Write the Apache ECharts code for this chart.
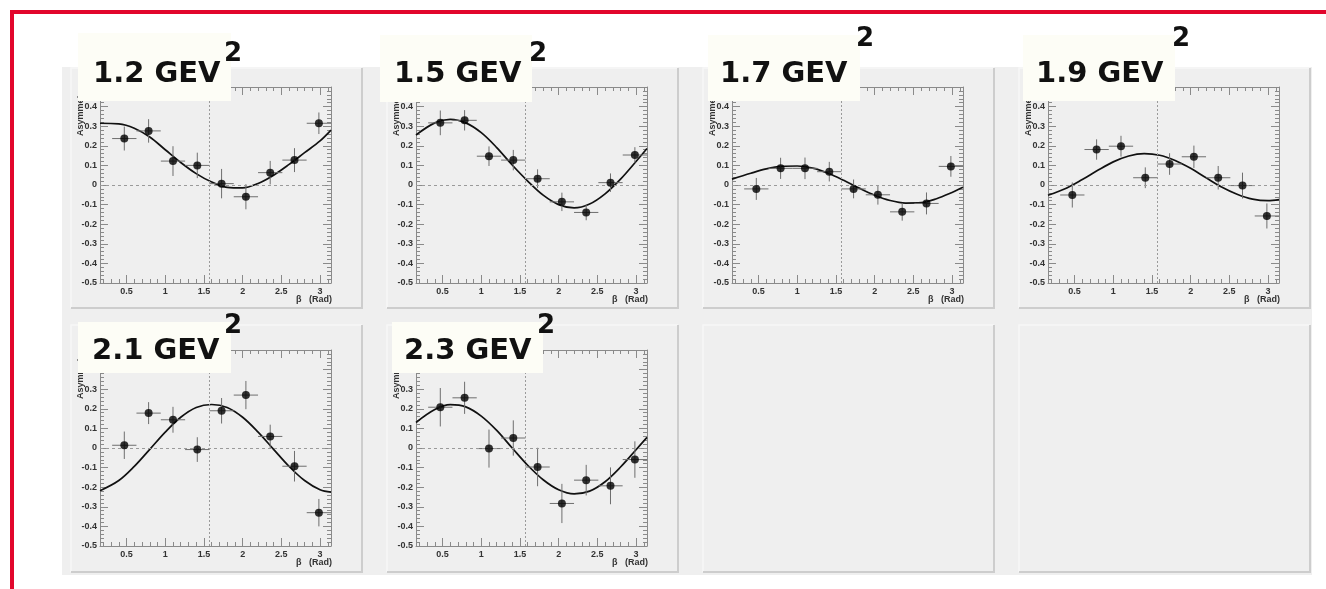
<!DOCTYPE html>
<html><head><meta charset="utf-8">
<script src="https://cdn.jsdelivr.net/npm/echarts@6/dist/echarts.min.js"></script>
<style>html,body{margin:0;padding:0;background:#fff}#c{width:1326px;height:589px}</style>
</head><body><div id="c"></div>
<script>
// ---------------- DATA ----------------
const panelLabels = ['1.2', '1.5', '1.7', '1.9', '2.1', '2.3'];
const unitText = 'GEV';
const unitPower = '2';
const betaCenters = [0.471, 0.785, 1.100, 1.414, 1.728, 2.042, 2.356, 2.670, 2.985];
const betaHalfBin = [0.157, 0.157, 0.157, 0.157, 0.157, 0.157, 0.157, 0.157, 0.157];
const betaRange = [0.157, 3.1416];
const asymRange = [-0.5, 0.5];
const xTickMajor = [0.5, 1, 1.5, 2, 2.5, 3];
const xTickMinor = [0.2, 0.3, 0.4, 0.6, 0.7, 0.8, 0.9, 1.1, 1.2, 1.3, 1.4, 1.6, 1.7, 1.8, 1.9, 2.1, 2.2, 2.3, 2.4, 2.6, 2.7, 2.8, 2.9, 3.1];
const yLabelMaxTopRow = 0.4;
const yLabelMaxBottomRow = 0.3;
const refBeta = [1.5708];
const refAsym = [0];
const xTitle = 'β   (Rad)';
const yTitle = 'Asymmetry';

const asym12 = [0.237, 0.276, 0.122, 0.100, 0.007, -0.060, 0.063, 0.127, 0.315];
const err12  = [0.061, 0.060, 0.076, 0.065, 0.075, 0.064, 0.060, 0.061, 0.055];
const asym15 = [0.317, 0.330, 0.147, 0.127, 0.032, -0.086, -0.140, 0.012, 0.153];
const err15  = [0.063, 0.052, 0.050, 0.052, 0.048, 0.047, 0.040, 0.047, 0.040];
const asym17 = [-0.020, 0.085, 0.085, 0.068, -0.020, -0.050, -0.137, -0.094, 0.095];
const err17  = [0.056, 0.054, 0.055, 0.050, 0.048, 0.050, 0.045, 0.056, 0.053];
const asym19 = [-0.051, 0.181, 0.198, 0.037, 0.107, 0.144, 0.037, -0.003, -0.158];
const err19  = [0.064, 0.052, 0.053, 0.053, 0.055, 0.057, 0.060, 0.066, 0.064];
const asym21 = [0.014, 0.178, 0.144, -0.008, 0.190, 0.270, 0.059, -0.093, -0.330];
const err21  = [0.070, 0.056, 0.066, 0.063, 0.065, 0.072, 0.060, 0.078, 0.070];
const asym23 = [0.208, 0.256, -0.003, 0.051, -0.097, -0.283, -0.164, -0.193, -0.059];
const err23  = [0.098, 0.082, 0.097, 0.090, 0.098, 0.100, 0.078, 0.094, 0.093];

const fitBeta = [0.157, 0.4, 0.6, 0.8, 1.0, 1.2, 1.4, 1.6, 1.8, 2.0, 2.2, 2.4, 2.6, 2.8, 3.0, 3.1416];
const fit12 = [0.315, 0.312, 0.290, 0.245, 0.180, 0.115, 0.058, 0.015, -0.012, -0.015, 0.008, 0.050, 0.105, 0.165, 0.225, 0.280];
const fit15 = [0.255, 0.317, 0.335, 0.317, 0.267, 0.191, 0.102, 0.020, -0.052, -0.100, -0.117, -0.097, -0.045, 0.030, 0.120, 0.186];
const fit17 = [0.030, 0.060, 0.082, 0.095, 0.097, 0.086, 0.060, 0.024, -0.016, -0.052, -0.079, -0.092, -0.090, -0.070, -0.038, -0.012];
const fit19 = [-0.052, -0.015, 0.028, 0.075, 0.118, 0.148, 0.160, 0.152, 0.125, 0.085, 0.037, -0.010, -0.047, -0.072, -0.080, -0.075];
const fit21 = [-0.218, -0.166, -0.094, -0.007, 0.081, 0.157, 0.207, 0.222, 0.207, 0.157, 0.081, -0.007, -0.094, -0.166, -0.213, -0.225];
const fit23 = [0.130, 0.196, 0.221, 0.210, 0.163, 0.090, 0.000, -0.088, -0.162, -0.213, -0.234, -0.220, -0.172, -0.097, -0.009, 0.054];

// ---------------- LAYOUT ----------------
const panels = [
  {asym: asym12, err: err12, fit: fit12},
  {asym: asym15, err: err15, fit: fit15},
  {asym: asym17, err: err17, fit: fit17},
  {asym: asym19, err: err19, fit: fit19},
  {asym: asym21, err: err21, fit: fit21},
  {asym: asym23, err: err23, fit: fit23}
];
const COL_X = [100, 416, 732, 1048];
const ROW_Y = [87, 350];
const GW = 231, GH = 196;
const PAD_X = [71, 387, 703, 1019];
const PAD_Y = [[68, 308], [325, 572]];
const boxes = [
  {x: 78,  y: 33,  w: 153, h: 68, tx: 93,   ty: 74,  sx: 224,  sy: 54},
  {x: 380, y: 35,  w: 152, h: 67, tx: 394,  ty: 74,  sx: 529,  sy: 54},
  {x: 708, y: 35,  w: 152, h: 66, tx: 720,  ty: 74,  sx: 856,  sy: 39},
  {x: 1023,y: 35,  w: 152, h: 66, tx: 1036, ty: 74,  sx: 1172, sy: 39},
  {x: 78,  y: 322, w: 153, h: 51, tx: 92,   ty: 351, sx: 224,  sy: 326},
  {x: 392, y: 322, w: 151, h: 51, tx: 404,  ty: 351, sx: 537,  sy: 326}
];

const AX = '#8a8a8a';
const labelFont = {fontFamily: 'Liberation Sans', fontWeight: 'bold', fontSize: 9, color: '#333'};

const grids = [], xAxes = [], yAxes = [], series = [], graphics = [];

// background + pads
graphics.push({type: 'rect', z: -10, shape: {x: 62, y: 67, width: 1250, height: 508}, style: {fill: '#efefef'}});
for (let r = 0; r < 2; r++) {
  for (let c = 0; c < 4; c++) {
    const x0 = PAD_X[c], x1 = PAD_X[c] + 291, y0 = PAD_Y[r][0], y1 = PAD_Y[r][1];
    graphics.push({type: 'polyline', z: -9, shape: {points: [[x0, y1], [x0, y0], [x1, y0]]}, style: {stroke: '#f7f7f7', lineWidth: 1.5, fill: null}});
    graphics.push({type: 'polyline', z: -9, shape: {points: [[x1, y0], [x1, y1], [x0, y1]]}, style: {stroke: '#cdcdcd', lineWidth: 2, fill: null}});
  }
}
// red frame
graphics.push({type: 'rect', z: 50, shape: {x: 10, y: 10, width: 1316, height: 4}, style: {fill: '#e2062c'}});
graphics.push({type: 'rect', z: 50, shape: {x: 10, y: 10, width: 4, height: 579}, style: {fill: '#e2062c'}});

function renderErr(params, api) {
  const x = api.value(0), y = api.value(1), e = api.value(2), h = api.value(3);
  const c = api.coord([x, y]);
  const t = api.coord([x, y + e]);
  const b = api.coord([x, y - e]);
  const l = api.coord([x - h, y]);
  const rr = api.coord([x + h, y]);
  return {type: 'group', children: [
    {type: 'line', shape: {x1: c[0], y1: t[1], x2: c[0], y2: b[1]}, style: {stroke: '#6e6e6e', lineWidth: 1}},
    {type: 'line', shape: {x1: l[0], y1: c[1], x2: rr[0], y2: c[1]}, style: {stroke: '#6e6e6e', lineWidth: 1}}
  ]};
}

panels.forEach((p, i) => {
  const col = i % 4, row = Math.floor(i / 4);
  const left = COL_X[col], top = ROW_Y[row];
  grids.push({left: left, top: top, width: GW, height: GH, containLabel: false, outerBoundsMode: 'none'});
  const xBase = {gridIndex: i, type: 'value', min: betaRange[0], max: betaRange[1], splitLine: {show: false}};
  xAxes.push(Object.assign({}, xBase, {
    position: 'bottom',
    axisLine: {show: true, onZero: false, lineStyle: {color: AX, width: 1}},
    axisTick: {show: true, inside: true, length: 8, customValues: xTickMajor, lineStyle: {color: AX}},
    axisLabel: Object.assign({show: true, customValues: xTickMajor, margin: 4}, labelFont)
  }));
  xAxes.push(Object.assign({}, xBase, {
    position: 'bottom',
    axisLine: {show: false, onZero: false},
    axisTick: {show: true, inside: true, length: 4, customValues: xTickMinor, lineStyle: {color: AX}},
    axisLabel: {show: false}
  }));
  xAxes.push(Object.assign({}, xBase, {
    position: 'top',
    axisLine: {show: true, onZero: false, lineStyle: {color: AX, width: 1}},
    axisTick: {show: true, inside: true, length: 8, customValues: xTickMajor, lineStyle: {color: AX}},
    axisLabel: {show: false}
  }));
  xAxes.push(Object.assign({}, xBase, {
    position: 'top',
    axisLine: {show: false, onZero: false},
    axisTick: {show: true, inside: true, length: 4, customValues: xTickMinor, lineStyle: {color: AX}},
    axisLabel: {show: false}
  }));
  const lim = row === 0 ? yLabelMaxTopRow : yLabelMaxBottomRow;
  const yBase = {gridIndex: i, type: 'value', min: asymRange[0], max: asymRange[1], interval: 0.1, splitLine: {show: false}};
  yAxes.push(Object.assign({}, yBase, {
    position: 'left',
    axisLine: {show: true, onZero: false, lineStyle: {color: AX, width: 1}},
    axisTick: {show: true, inside: true, length: 8, lineStyle: {color: AX}},
    minorTick: {show: true, splitNumber: 5, length: 4, lineStyle: {color: AX}},
    axisLabel: Object.assign({show: true, margin: 3, formatter: function (v) { return v > lim + 1e-9 ? '' : String(Math.round(v * 10) / 10); }}, labelFont)
  }));
  yAxes.push(Object.assign({}, yBase, {
    position: 'right',
    axisLine: {show: true, onZero: false, lineStyle: {color: AX, width: 1}},
    axisTick: {show: true, inside: true, length: 8, lineStyle: {color: AX}},
    minorTick: {show: true, splitNumber: 5, length: 4, lineStyle: {color: AX}},
    axisLabel: {show: false}
  }));

  const errData = betaCenters.map((b, k) => [b, p.asym[k], p.err[k], betaHalfBin[k]]);
  const ptData = betaCenters.map((b, k) => [b, p.asym[k]]);
  const fitData = fitBeta.map((b, k) => [b, p.fit[k]]);

  series.push({
    type: 'line', xAxisIndex: 4 * i, yAxisIndex: 2 * i, data: fitData, smooth: 0.35,
    symbol: 'none', lineStyle: {color: '#111', width: 1.7}, z: 3, silent: true,
    markLine: {
      silent: true, symbol: 'none', label: {show: false}, animation: false,
      data: [
        {xAxis: refBeta[0], lineStyle: {color: '#9a9a9a', width: 1, type: [2, 2]}},
        {yAxis: refAsym[0], lineStyle: {color: '#9a9a9a', width: 1, type: [3, 3]}}
      ]
    }
  });
  series.push({
    type: 'custom', xAxisIndex: 4 * i, yAxisIndex: 2 * i, data: errData,
    renderItem: renderErr, encode: {x: 0, y: 1}, z: 4, silent: true
  });
  series.push({
    type: 'scatter', xAxisIndex: 4 * i, yAxisIndex: 2 * i, data: ptData,
    symbol: 'circle', symbolSize: 8, itemStyle: {color: '#000'}, z: 5, silent: true
  });

  // axis titles
  graphics.push({type: 'text', z: 20, x: left + GW + 1, y: top + GH + 17,
    style: {text: xTitle, align: 'right', verticalAlign: 'middle', fontFamily: 'Liberation Sans', fontWeight: 'bold', fontSize: 9, fill: '#333'}});
  graphics.push({type: 'text', z: 20, x: left - 19, y: top, rotation: Math.PI / 2,
    style: {text: yTitle, align: 'right', verticalAlign: 'middle', fontFamily: 'Liberation Sans', fontWeight: 'bold', fontSize: 9, fill: '#333'}});

  // label box
  const bx = boxes[i];
  graphics.push({type: 'rect', z: 100, shape: {x: bx.x, y: bx.y, width: bx.w, height: bx.h}, style: {fill: '#fdfdf6'}});
  graphics.push({type: 'text', z: 101, x: bx.tx, y: bx.ty,
    style: {text: panelLabels[i] + ' ' + unitText, align: 'left', verticalAlign: 'middle', fontFamily: 'DejaVu Sans', fontWeight: 'bold', fontSize: 29, fill: '#111'}});
  graphics.push({type: 'text', z: 101, x: bx.sx, y: bx.sy,
    style: {text: unitPower, align: 'left', verticalAlign: 'middle', fontFamily: 'DejaVu Sans', fontWeight: 'bold', fontSize: 26, fill: '#111'}});
});

const chart = echarts.init(document.getElementById('c'), null, {renderer: 'canvas'});
chart.setOption({
  animation: false,
  backgroundColor: '#ffffff',
  grid: grids,
  xAxis: xAxes,
  yAxis: yAxes,
  series: series,
  graphic: {elements: graphics}
});
</script>
</body></html>
